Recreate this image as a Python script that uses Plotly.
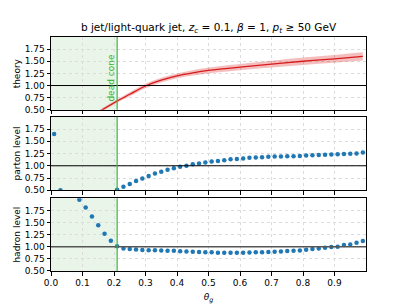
import plotly.graph_objects as go

# ---------------- data ----------------
theta = [0.01, 0.03, 0.05, 0.07, 0.09, 0.11, 0.13, 0.15, 0.17, 0.19,
         0.21, 0.23, 0.25, 0.27, 0.29, 0.31, 0.33, 0.35, 0.37, 0.39,
         0.41, 0.43, 0.45, 0.47, 0.49, 0.51, 0.53, 0.55, 0.57, 0.59,
         0.61, 0.63, 0.65, 0.67, 0.69, 0.71, 0.73, 0.75, 0.77, 0.79,
         0.81, 0.83, 0.85, 0.87, 0.89, 0.91, 0.93, 0.95, 0.97, 0.99]

parton = [1.65, 0.50, None, None, None, None, None, None, None, None,
          0.51, 0.57, 0.63, 0.69, 0.74, 0.79, 0.84, 0.88, 0.92, 0.95,
          0.98, 1.00, 1.03, 1.045, 1.065, 1.085, 1.10, 1.115, 1.135, 1.14,
          1.15, 1.165, 1.17, 1.175, 1.185, 1.19, 1.19, 1.195, 1.195, 1.20,
          1.21, 1.215, 1.22, 1.225, 1.23, 1.235, 1.24, 1.245, 1.25, 1.27]

hadron = [None, None, None, None, 1.97, 1.81, 1.625, 1.445, 1.27, 1.125,
          1.01, 0.962, 0.951, 0.941, 0.935, 0.93, 0.926, 0.924, 0.918, 0.917,
          0.905, 0.903, 0.896, 0.892, 0.889, 0.884, 0.878, 0.876, 0.876, 0.876,
          0.877, 0.882, 0.884, 0.889, 0.891, 0.898, 0.904, 0.911, 0.918, 0.925,
          0.939, 0.952, 0.966, 0.98, 0.993, 1.0, 1.034, 1.048, 1.082, 1.12]

theory_theta = [0.15, 0.21, 0.25, 0.30, 0.35, 0.40, 0.45, 0.50, 0.60, 0.70, 0.80, 0.90, 0.99]
theory_val = [0.45, 0.68, 0.82, 0.99, 1.11, 1.20, 1.26, 1.31, 1.38, 1.44, 1.50, 1.55, 1.60]
theory_lo = [0.42, 0.645, 0.78, 0.945, 1.06, 1.15, 1.205, 1.25, 1.315, 1.37, 1.425, 1.47, 1.515]
theory_hi = [0.48, 0.715, 0.86, 1.035, 1.16, 1.25, 1.315, 1.37, 1.445, 1.51, 1.575, 1.63, 1.685]

dead_cone = 0.21
x_ticks = [0.0, 0.1, 0.2, 0.3, 0.4, 0.5, 0.6, 0.7, 0.8, 0.9]
y_ticks = [0.50, 0.75, 1.00, 1.25, 1.50, 1.75]
panel_labels = ["theory", "parton level", "hadron level"]

# ---------------- figure ----------------
FONT = "DejaVu Sans"
fig = go.Figure()

# theory band + line (panel 1)
fig.add_trace(go.Scatter(x=theory_theta, y=theory_lo, mode="lines", line=dict(width=0, shape="spline"),
                         showlegend=False, hoverinfo="skip", xaxis="x", yaxis="y"))
fig.add_trace(go.Scatter(x=theory_theta, y=theory_hi, mode="lines", line=dict(width=0, shape="spline"),
                         fill="tonexty", fillcolor="rgba(220,40,40,0.30)",
                         showlegend=False, hoverinfo="skip", xaxis="x", yaxis="y"))
fig.add_trace(go.Scatter(x=theory_theta, y=theory_val, mode="lines",
                         line=dict(color="#d81b1b", width=1.3, shape="spline"),
                         showlegend=False, xaxis="x", yaxis="y"))

# parton (panel 2)
fig.add_trace(go.Scatter(x=theta, y=parton, mode="markers",
                         marker=dict(color="#1f77b4", size=4.5),
                         showlegend=False, xaxis="x2", yaxis="y2"))
# hadron (panel 3)
fig.add_trace(go.Scatter(x=theta, y=hadron, mode="markers",
                         marker=dict(color="#1f77b4", size=4.5),
                         showlegend=False, xaxis="x3", yaxis="y3"))

domains = [[0.689, 1.0], [0.345, 0.659], [0.0, 0.311]]
axis_common = dict(showline=True, linecolor="black", linewidth=1, mirror=True,
                   ticks="outside", ticklen=3.5, tickwidth=0.8, tickcolor="black",
                   showgrid=True, gridcolor="#dcdcdc", gridwidth=0.8, griddash="dot",
                   zeroline=False, automargin=False,
                   tickfont=dict(family=FONT, size=9, color="black"))

# the page body adds an 8px margin, so the figure is sized to fit the 407x305 window
layout = dict(
    width=399, height=297,
    margin=dict(l=43, r=41, t=29, b=34),
    plot_bgcolor="white", paper_bgcolor="white",
    font=dict(family=FONT, size=9, color="black"),
    title=dict(text="b jet/light-quark jet, <i>z</i><sub><i>c</i></sub> = 0.1, <i>β</i> = 1, "
                    "<i>p</i><sub><i>t</i></sub> ≥ 50 GeV",
               x=0.5, xref="paper", xanchor="center", y=0.936, yref="container", yanchor="middle",
               font=dict(family=FONT, size=10.5, color="black")),
    showlegend=False,
)

shapes = []
annotations = []
for i in range(3):
    xa = "xaxis" if i == 0 else f"xaxis{i+1}"
    ya = "yaxis" if i == 0 else f"yaxis{i+1}"
    xref = "x" if i == 0 else f"x{i+1}"
    yref = "y" if i == 0 else f"y{i+1}"
    layout[xa] = dict(axis_common, domain=[0, 1], anchor=yref, range=[0, 1.0],
                      tickvals=x_ticks, tickformat=".1f",
                      showticklabels=(i == 2))
    if i > 0:
        layout[xa]["matches"] = "x"
    layout[ya] = dict(axis_common, domain=domains[i], anchor=xref, range=[0.5, 2.0],
                      tickvals=y_ticks, tickformat=".2f")
    # panel label (y-axis title)
    annotations.append(dict(x=-0.108, y=(domains[i][0] + domains[i][1]) / 2,
                            xref="paper", yref="paper", text=panel_labels[i],
                            textangle=-90, showarrow=False, xanchor="center", yanchor="middle",
                            font=dict(family=FONT, size=9, color="black")))
    # dead-cone shading
    shapes.append(dict(type="rect", xref=xref, yref=f"{yref} domain", x0=0, x1=dead_cone,
                       y0=0, y1=1, fillcolor="rgba(44,160,44,0.11)", line=dict(width=0),
                       layer="below"))
    # reference line at 1
    shapes.append(dict(type="line", xref=f"{xref} domain", yref=yref, x0=0, x1=1, y0=1, y1=1,
                       line=dict(color="black" if i < 2 else "#555555", width=1 if i < 2 else 1.3)))
    # dead-cone line
    shapes.append(dict(type="line", xref=xref, yref=f"{yref} domain", x0=dead_cone, x1=dead_cone,
                       y0=0, y1=1, line=dict(color="#3cb83c", width=1.2)))

layout["xaxis3"]["title"] = dict(text="<i>θ</i><sub><i>g</i></sub>", standoff=6,
                                 font=dict(family=FONT, size=9, color="black"))

annotations.append(dict(x=dead_cone, y=0.62, xref="x", yref="y", text="dead cone",
                        textangle=-90, showarrow=False, xanchor="center", yanchor="bottom",
                        xshift=-6, font=dict(family=FONT, size=9, color="#2eb82e")))

layout["shapes"] = shapes
layout["annotations"] = annotations
fig.update_layout(**layout)

fig.write_html("out.html")
